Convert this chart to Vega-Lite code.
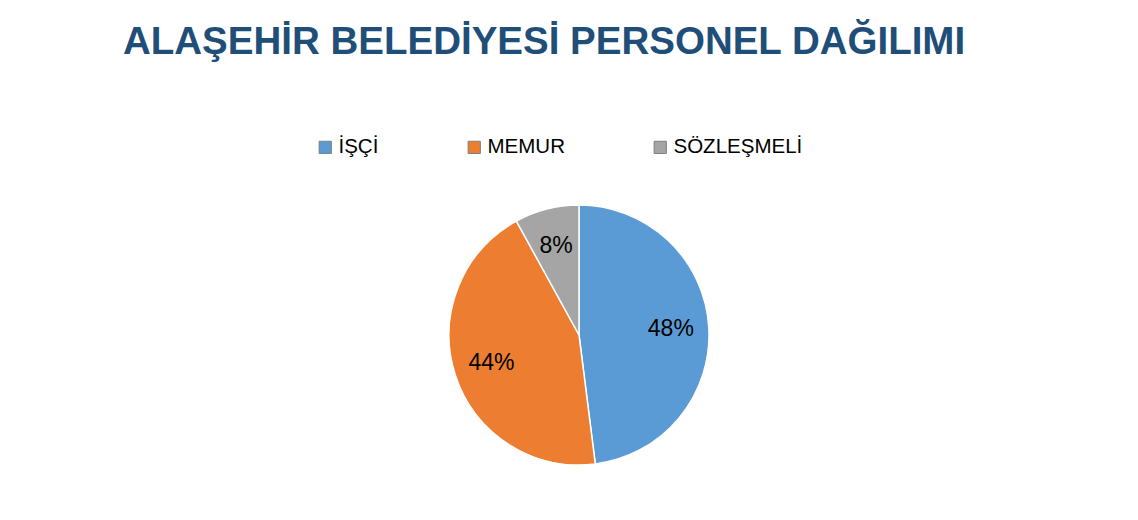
{
  "$schema": "https://vega.github.io/schema/vega-lite/v6.json",
  "autosize": {"type": "none"},
  "width": 1118,
  "height": 370,
  "padding": {"top": 150, "left": 20, "right": 0, "bottom": 0},
  "background": "white",
  "config": {"view": {"stroke": null}},
  "title": {
    "text": "ALAŞEHİR BELEDİYESİ PERSONEL DAĞILIMI",
    "anchor": "start",
    "frame": "group",
    "dx": 103,
    "offset": 75,
    "font": "Liberation Sans",
    "fontSize": 38.5,
    "fontWeight": "bold",
    "color": "#1F4E79"
  },
  "data": {
    "values": [
      {"kategori": "İŞÇİ", "oran": 48, "etiket": "48%", "sira": 1},
      {"kategori": "MEMUR", "oran": 44, "etiket": "44%", "sira": 2},
      {"kategori": "SÖZLEŞMELİ", "oran": 8, "etiket": "8%", "sira": 3}
    ]
  },
  "encoding": {
    "theta": {"field": "oran", "type": "quantitative", "stack": true},
    "order": {"field": "sira", "type": "quantitative"}
  },
  "layer": [
    {
      "mark": {"type": "arc", "radius": 130, "stroke": "white", "strokeWidth": 1.5},
      "encoding": {
        "color": {
          "field": "kategori",
          "type": "nominal",
          "sort": ["İŞÇİ", "MEMUR", "SÖZLEŞMELİ"],
          "scale": {"domain": ["İŞÇİ", "MEMUR", "SÖZLEŞMELİ"], "range": ["#5B9BD5", "#ED7D31", "#A5A5A5"]},
          "legend": {
            "orient": "none",
            "direction": "horizontal",
            "legendX": 295,
            "legendY": -13,
            "title": null,
            "symbolType": "square",
            "symbolSize": 150,
            "symbolStrokeColor": "#7F7F7F",
            "symbolStrokeWidth": 1,
            "labelFont": "Liberation Sans",
            "labelFontSize": 20.5,
            "labelColor": "#000000",
            "labelOffset": 3,
            "columnPadding": 85
          }
        }
      }
    },
    {
      "mark": {"type": "text", "radius": 92, "font": "Liberation Sans", "fontSize": 23, "color": "#000000"},
      "encoding": {
        "text": {"field": "etiket", "type": "nominal"}
      }
    }
  ]
}
